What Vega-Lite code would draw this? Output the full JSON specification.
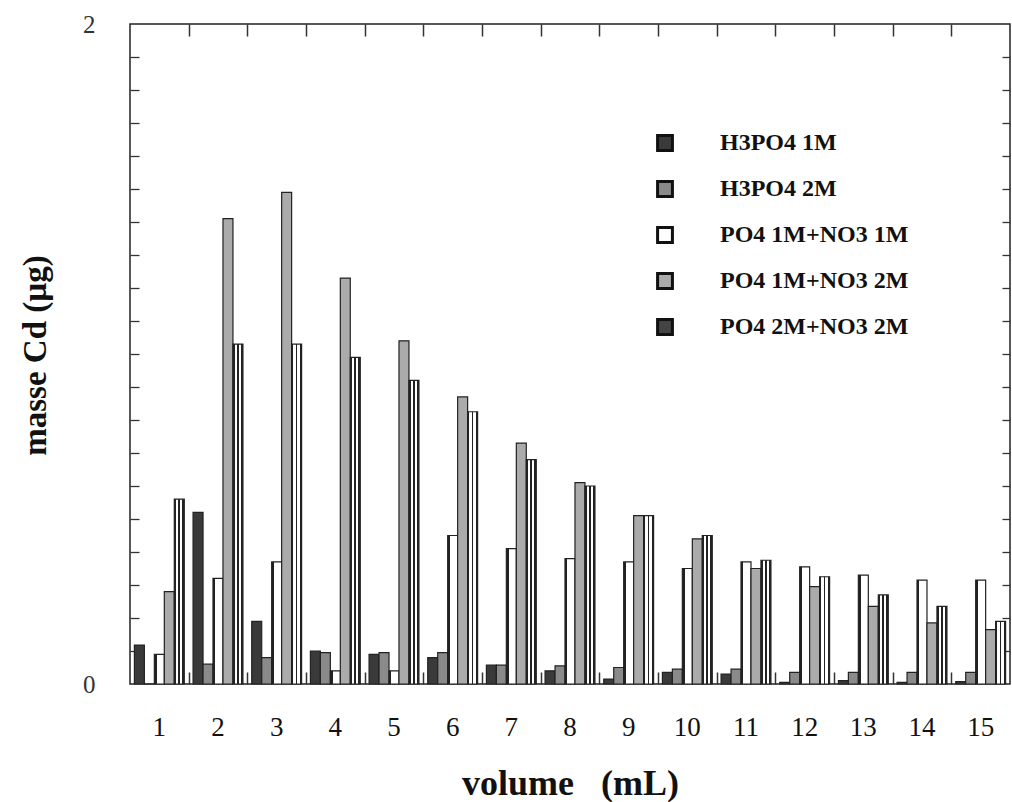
{
  "$schema": "https://vega.github.io/schema/vega-lite/v6.json",
  "autosize": {"type": "none"},
  "padding": {"left": 130, "top": 24, "right": 2, "bottom": 118},
  "width": 880,
  "height": 660,
  "background": "white",
  "config": {
    "view": {"stroke": "#222", "strokeWidth": 1.5},
    "font": "Liberation Serif",
    "legend": {"labelFont": "Liberation Serif"},
    "axis": {"labelFont": "Liberation Serif", "titleFont": "Liberation Serif"}
  },
  "data": {
    "values": [
      {"v": 1, "s": "H3PO4 1M", "m": 0.118}, {"v": 1, "s": "H3PO4 2M", "m": 0}, {"v": 1, "s": "PO4 1M+NO3 1M", "m": 0.09}, {"v": 1, "s": "PO4 1M+NO3 2M", "m": 0.28}, {"v": 1, "s": "PO4 2M+NO3 2M", "m": 0.56},
      {"v": 2, "s": "H3PO4 1M", "m": 0.52}, {"v": 2, "s": "H3PO4 2M", "m": 0.06}, {"v": 2, "s": "PO4 1M+NO3 1M", "m": 0.32}, {"v": 2, "s": "PO4 1M+NO3 2M", "m": 1.41}, {"v": 2, "s": "PO4 2M+NO3 2M", "m": 1.03},
      {"v": 3, "s": "H3PO4 1M", "m": 0.19}, {"v": 3, "s": "H3PO4 2M", "m": 0.08}, {"v": 3, "s": "PO4 1M+NO3 1M", "m": 0.37}, {"v": 3, "s": "PO4 1M+NO3 2M", "m": 1.49}, {"v": 3, "s": "PO4 2M+NO3 2M", "m": 1.03},
      {"v": 4, "s": "H3PO4 1M", "m": 0.10}, {"v": 4, "s": "H3PO4 2M", "m": 0.095}, {"v": 4, "s": "PO4 1M+NO3 1M", "m": 0.04}, {"v": 4, "s": "PO4 1M+NO3 2M", "m": 1.23}, {"v": 4, "s": "PO4 2M+NO3 2M", "m": 0.99},
      {"v": 5, "s": "H3PO4 1M", "m": 0.09}, {"v": 5, "s": "H3PO4 2M", "m": 0.095}, {"v": 5, "s": "PO4 1M+NO3 1M", "m": 0.04}, {"v": 5, "s": "PO4 1M+NO3 2M", "m": 1.04}, {"v": 5, "s": "PO4 2M+NO3 2M", "m": 0.92},
      {"v": 6, "s": "H3PO4 1M", "m": 0.08}, {"v": 6, "s": "H3PO4 2M", "m": 0.095}, {"v": 6, "s": "PO4 1M+NO3 1M", "m": 0.45}, {"v": 6, "s": "PO4 1M+NO3 2M", "m": 0.87}, {"v": 6, "s": "PO4 2M+NO3 2M", "m": 0.825},
      {"v": 7, "s": "H3PO4 1M", "m": 0.057}, {"v": 7, "s": "H3PO4 2M", "m": 0.057}, {"v": 7, "s": "PO4 1M+NO3 1M", "m": 0.41}, {"v": 7, "s": "PO4 1M+NO3 2M", "m": 0.73}, {"v": 7, "s": "PO4 2M+NO3 2M", "m": 0.68},
      {"v": 8, "s": "H3PO4 1M", "m": 0.04}, {"v": 8, "s": "H3PO4 2M", "m": 0.055}, {"v": 8, "s": "PO4 1M+NO3 1M", "m": 0.38}, {"v": 8, "s": "PO4 1M+NO3 2M", "m": 0.61}, {"v": 8, "s": "PO4 2M+NO3 2M", "m": 0.60},
      {"v": 9, "s": "H3PO4 1M", "m": 0.015}, {"v": 9, "s": "H3PO4 2M", "m": 0.05}, {"v": 9, "s": "PO4 1M+NO3 1M", "m": 0.37}, {"v": 9, "s": "PO4 1M+NO3 2M", "m": 0.51}, {"v": 9, "s": "PO4 2M+NO3 2M", "m": 0.51},
      {"v": 10, "s": "H3PO4 1M", "m": 0.035}, {"v": 10, "s": "H3PO4 2M", "m": 0.045}, {"v": 10, "s": "PO4 1M+NO3 1M", "m": 0.35}, {"v": 10, "s": "PO4 1M+NO3 2M", "m": 0.44}, {"v": 10, "s": "PO4 2M+NO3 2M", "m": 0.45},
      {"v": 11, "s": "H3PO4 1M", "m": 0.03}, {"v": 11, "s": "H3PO4 2M", "m": 0.045}, {"v": 11, "s": "PO4 1M+NO3 1M", "m": 0.37}, {"v": 11, "s": "PO4 1M+NO3 2M", "m": 0.35}, {"v": 11, "s": "PO4 2M+NO3 2M", "m": 0.375},
      {"v": 12, "s": "H3PO4 1M", "m": 0.005}, {"v": 12, "s": "H3PO4 2M", "m": 0.035}, {"v": 12, "s": "PO4 1M+NO3 1M", "m": 0.355}, {"v": 12, "s": "PO4 1M+NO3 2M", "m": 0.295}, {"v": 12, "s": "PO4 2M+NO3 2M", "m": 0.325},
      {"v": 13, "s": "H3PO4 1M", "m": 0.01}, {"v": 13, "s": "H3PO4 2M", "m": 0.035}, {"v": 13, "s": "PO4 1M+NO3 1M", "m": 0.33}, {"v": 13, "s": "PO4 1M+NO3 2M", "m": 0.235}, {"v": 13, "s": "PO4 2M+NO3 2M", "m": 0.27},
      {"v": 14, "s": "H3PO4 1M", "m": 0.005}, {"v": 14, "s": "H3PO4 2M", "m": 0.035}, {"v": 14, "s": "PO4 1M+NO3 1M", "m": 0.315}, {"v": 14, "s": "PO4 1M+NO3 2M", "m": 0.185}, {"v": 14, "s": "PO4 2M+NO3 2M", "m": 0.235},
      {"v": 15, "s": "H3PO4 1M", "m": 0.007}, {"v": 15, "s": "H3PO4 2M", "m": 0.035}, {"v": 15, "s": "PO4 1M+NO3 1M", "m": 0.315}, {"v": 15, "s": "PO4 1M+NO3 2M", "m": 0.165}, {"v": 15, "s": "PO4 2M+NO3 2M", "m": 0.19}
    ]
  },
  "resolve": {"scale": {"x": "independent"}, "axis": {"x": "independent", "y": "independent"}},
  "layer": [
    {
      "mark": {"type": "bar", "stroke": "#222", "strokeWidth": 1.2},
      "encoding": {
        "x": {
          "field": "v", "type": "ordinal",
          "scale": {"paddingInner": 0.15, "paddingOuter": 0.075},
          "axis": {
            "orient": "bottom", "domain": false, "labelAngle": 0, "ticks": false,
            "labelFont": "Liberation Serif", "labelFontSize": 27, "labelColor": "#111",
            "labelPadding": 30,
            "title": "volume\u00a0\u00a0\u00a0(mL)",
            "titleFont": "Liberation Serif", "titleFontSize": 36, "titleFontWeight": "bold",
            "titleColor": "#111", "titleBaseline": "middle", "titleY": 99
          }
        },
        "xOffset": {
          "field": "s", "type": "nominal", "sort": null,
          "scale": {"paddingInner": 0, "paddingOuter": 0}
        },
        "y": {
          "field": "m", "type": "quantitative",
          "scale": {"domain": [0, 2], "nice": false},
          "axis": {
            "orient": "left", "domain": false, "ticks": false, "grid": false,
            "values": [0, 1, 2], "format": "d",
            "labelFont": "Liberation Serif", "labelFontSize": 25, "labelColor": "#333",
            "labelPadding": 35,
            "title": "masse Cd (µg)",
            "titleFont": "Liberation Serif", "titleFontSize": 33, "titleFontWeight": "bold",
            "titleColor": "#111", "titleBaseline": "middle", "titleX": -95, "titleY": 331,
            "titleAngle": -90
          }
        },
        "fill": {
          "condition": [
            {
              "test": "datum.s === 'PO4 2M+NO3 2M'",
              "value": {
                "gradient": "linear", "x1": 0, "y1": 0, "x2": 1, "y2": 0,
                "stops": [
                  {"offset": 0, "color": "#222"}, {"offset": 0.18, "color": "#222"},
                  {"offset": 0.18, "color": "#fff"}, {"offset": 0.42, "color": "#fff"},
                  {"offset": 0.42, "color": "#222"}, {"offset": 0.58, "color": "#222"},
                  {"offset": 0.58, "color": "#fff"}, {"offset": 0.82, "color": "#fff"},
                  {"offset": 0.82, "color": "#222"}, {"offset": 1, "color": "#222"}
                ]
              }
            },
            {
              "test": "datum.s === 'PO4 1M+NO3 1M'",
              "value": {
                "gradient": "linear", "x1": 0, "y1": 0, "x2": 1, "y2": 0,
                "stops": [
                  {"offset": 0, "color": "#222"}, {"offset": 0.22, "color": "#222"},
                  {"offset": 0.22, "color": "#fff"}, {"offset": 1, "color": "#fff"}
                ]
              }
            }
          ],
          "field": "s", "type": "nominal", "sort": null,
          "scale": {
            "domain": ["H3PO4 1M", "H3PO4 2M", "PO4 1M+NO3 1M", "PO4 1M+NO3 2M", "PO4 2M+NO3 2M"],
            "range": ["#3a3a3a", "#8a8a8a", "#ffffff", "#ababab", "#444444"]
          },
          "legend": {
            "orient": "none", "legendX": 523, "legendY": 107,
            "title": null,
            "symbolType": "square", "symbolSize": 220,
            "symbolStrokeColor": "#111", "symbolStrokeWidth": 3,
            "symbolOpacity": 1,
            "labelFont": "Liberation Serif", "labelFontSize": 24, "labelFontWeight": "bold",
            "labelColor": "#111", "labelOffset": 43, "rowPadding": 18,
            "labelLimit": 400
          }
        }
      }
    },
    {
      "mark": {"type": "point", "opacity": 0},
      "encoding": {
        "x": {
          "field": "v", "type": "quantitative",
          "scale": {"domain": [0.5, 15.5], "nice": false, "zero": false},
          "axis": {
            "orient": "bottom", "domain": false, "labels": false, "title": null, "ticks": false,
            "values": [1.5, 2.5, 3.5, 4.5, 5.5, 6.5, 7.5, 8.5, 9.5, 10.5, 11.5, 12.5, 13.5, 14.5],
            "grid": true, "gridColor": "#333", "gridWidth": 1.5, "gridOpacity": 1, "gridDash": [12, 900]
          }
        },
        "y": {
          "field": "m", "type": "quantitative",
          "axis": {
            "orient": "left", "domain": false, "labels": false, "title": null, "grid": false,
            "values": [0.1, 0.2, 0.3, 0.4, 0.5, 0.6, 0.7, 0.8, 0.9, 1, 1.1, 1.2, 1.3, 1.4, 1.5, 1.6, 1.7, 1.8, 1.9],
            "tickSize": -9, "tickColor": "#333", "tickWidth": 1.3
          }
        }
      }
    },
    {
      "mark": {"type": "point", "opacity": 0},
      "encoding": {
        "x": {
          "field": "v", "type": "quantitative",
          "scale": {"domain": [0.5, 15.5], "nice": false, "zero": false},
          "axis": {
            "orient": "top", "domain": false, "labels": false, "title": null, "ticks": false,
            "values": [1.5, 2.5, 3.5, 4.5, 5.5, 6.5, 7.5, 8.5, 9.5, 10.5, 11.5, 12.5, 13.5, 14.5],
            "grid": true, "gridColor": "#333", "gridWidth": 1.5, "gridOpacity": 1, "gridDash": [12, 900]
          }
        },
        "y": {
          "field": "m", "type": "quantitative",
          "axis": {
            "orient": "right", "domain": false, "labels": false, "title": null, "grid": false,
            "values": [0.1, 0.2, 0.3, 0.4, 0.5, 0.6, 0.7, 0.8, 0.9, 1, 1.1, 1.2, 1.3, 1.4, 1.5, 1.6, 1.7, 1.8, 1.9],
            "tickSize": -8, "tickColor": "#333", "tickWidth": 1.3
          }
        }
      }
    },
    {
      "mark": {"type": "point", "opacity": 0},
      "encoding": {
        "x": {
          "field": "v", "type": "quantitative",
          "scale": {"domain": [0.5, 15.5], "nice": false, "zero": false},
          "axis": {
            "orient": "top", "domain": false, "labels": false, "title": null, "ticks": false,
            "values": [1, 2, 3, 4, 5, 6, 7, 8, 9, 10, 11, 12, 13, 14, 15],
            "grid": true, "gridColor": "#333", "gridWidth": 1.3, "gridOpacity": 1, "gridDash": [8, 900]
          }
        },
        "y": {
          "field": "m", "type": "quantitative",
          "axis": null
        }
      }
    }
  ]
}
